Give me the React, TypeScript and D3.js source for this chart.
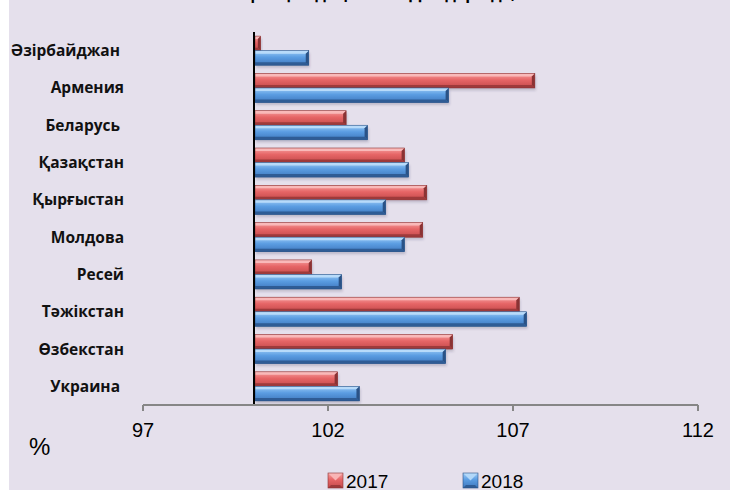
import React from "react";
import * as d3 from "d3";

const categories = ["Әзірбайджан", "Армения", "Беларусь", "Қазақстан", "Қырғыстан", "Молдова", "Ресей", "Тәжікстан", "Өзбекстан", "Украина"];
const labelPad = [4, 0, 4, 0, 0, 0, 0, 0, 0, 4];
const series2017 = [100.18, 107.59, 102.49, 104.07, 104.67, 104.56, 101.56, 107.17, 105.37, 102.26];
const series2018 = [101.48, 105.26, 103.07, 104.18, 103.56, 104.07, 102.37, 107.37, 105.18, 102.85];
const seriesNames = ["2017", "2018"];
const xTicks = [97, 102, 107, 112];
const baseValue = 100;
const titleText = "Инфляция деңгейі ТМД елдерінде, 2017–2018 жж.";

const W = 730;
const H = 494;

const palettes = [
  { top: "#F6A0A0", mid: "#E66566", bot: "#C44A4B", light: "#F9B9B9", dark: "#9E3A3B", edge: "#8A3334" },
  { top: "#9CCBF6", mid: "#5B9DE2", bot: "#3F78BE", light: "#B8DBFA", dark: "#2F5C95", edge: "#2A5286" },
];

function Bar({ x0, x1, y0, h, p, id }: any) {
  const b = Math.min(3, h / 4, Math.max(0, (x1 - x0) / 2));
  const y1 = y0 + h;
  const pts = (a: number[][]) => a.map((q) => q.join(",")).join(" ");
  return (
    <g>
      <rect x={x0 + 1} y={y0 + 2.5} width={Math.max(0, x1 - x0)} height={h} fill="rgba(60,50,80,0.22)" filter="url(#blur)" />
      <rect x={x0} y={y0} width={Math.max(0, x1 - x0)} height={h} fill={`url(#grad${id})`} />
      <polygon points={pts([[x0, y0], [x1, y0], [x1 - b, y0 + b], [x0, y0 + b]])} fill={p.light} />
      <polygon points={pts([[x0, y1], [x1, y1], [x1 - b, y1 - b], [x0, y1 - b]])} fill={p.dark} />
      <polygon points={pts([[x1, y0], [x1, y1], [x1 - b, y1 - b], [x1 - b, y0 + b]])} fill={p.edge} />
      <rect x={x0} y={y0} width={Math.max(0, x1 - x0)} height={h} fill="none" stroke={p.edge} strokeWidth={0.6} />
    </g>
  );
}

function Swatch({ x, y, s, p, id }: any) {
  const b = 3;
  const pts = (a: number[][]) => a.map((q) => q.join(",")).join(" ");
  return (
    <g>
      <rect x={x} y={y} width={s} height={s} fill={`url(#grad${id})`} />
      <polygon points={pts([[x, y], [x + s, y], [x + s / 2, y + s / 2]])} fill={p.light} opacity={0.9} />
      <polygon points={pts([[x, y + s], [x + s, y + s], [x + s - b, y + s - b], [x + b, y + s - b]])} fill={p.dark} />
      <rect x={x} y={y} width={s} height={s} fill="none" stroke={p.edge} strokeWidth={0.6} />
    </g>
  );
}

export default function App() {
  const x = d3.scaleLinear().domain([97, 112]).range([143, 698]);
  const y = d3.scaleBand<string>().domain(categories).range([32, 405]).paddingInner(0.22).paddingOuter(0.11);
  const ys = d3.scaleBand<string>().domain(seriesNames).range([0, y.bandwidth()]).padding(0);
  const data = [series2017, series2018];
  const axisY = 405;
  const x0 = x(baseValue);

  return (
    <div style={{ position: "absolute", left: 0, top: 0 }}>
      <svg width={W} height={H} style={{ display: "block" }}>
        <defs>
          {palettes.map((p, i) => (
            <linearGradient key={i} id={`grad${i}`} x1="0" y1="0" x2="0" y2="1">
              <stop offset="0" stopColor={p.top} />
              <stop offset="0.45" stopColor={p.mid} />
              <stop offset="1" stopColor={p.bot} />
            </linearGradient>
          ))}
          <filter id="blur" x="-10%" y="-50%" width="120%" height="200%">
            <feGaussianBlur stdDeviation="1.3" />
          </filter>
        </defs>
        <rect x={0} y={0} width={W} height={H} fill="#FFFFFF" />
        <rect x={9} y={0} width={W - 9} height={490} fill="#E5E0EC" />

        <text x={430} y={-1} textAnchor="middle" fontFamily="Open Sans, sans-serif" fontWeight="bold" fontSize={16} fill="#000">
          {titleText}
        </text>

        {categories.map((c, i) => (
          <text
            key={c}
            x={124 - labelPad[i]}
            y={(y(c) as number) + y.bandwidth() / 2 + 5.5}
            textAnchor="end"
            fontFamily="Open Sans, sans-serif"
            fontWeight="bold"
            fontSize={15.5}
            fill="#111"
          >
            {c}
          </text>
        ))}

        {categories.map((c, i) =>
          seriesNames.map((s, j) => (
            <Bar
              key={c + s}
              x0={x0 + 1}
              x1={x(data[j][i])}
              y0={(y(c) as number) + (ys(s) as number)}
              h={ys.bandwidth()}
              p={palettes[j]}
              id={j}
            />
          ))
        )}

        <line x1={x0} x2={x0} y1={32} y2={axisY} stroke="#000" strokeWidth={2} />

        <line x1={x(97)} x2={x(112)} y1={axisY} y2={axisY} stroke="#868686" strokeWidth={2} />
        {xTicks.map((t) => (
          <g key={t}>
            <line x1={x(t)} x2={x(t)} y1={axisY} y2={axisY + 6} stroke="#868686" strokeWidth={2} />
            <text x={x(t)} y={437} textAnchor="middle" fontFamily="Liberation Sans, Arial, sans-serif" fontSize={20} fill="#000">
              {t}
            </text>
          </g>
        ))}

        <text x={29} y={455} fontFamily="Liberation Sans, Arial, sans-serif" fontSize={24} fill="#000">
          %
        </text>

        {seriesNames.map((s, j) => {
          const sx = [328, 463][j];
          return (
            <g key={s}>
              <Swatch x={sx} y={473} s={15} p={palettes[j]} id={j} />
              <text x={sx + 18} y={488} fontFamily="Liberation Sans, Arial, sans-serif" fontSize={19} fill="#000">
                {s}
              </text>
            </g>
          );
        })}
      </svg>
    </div>
  );
}
